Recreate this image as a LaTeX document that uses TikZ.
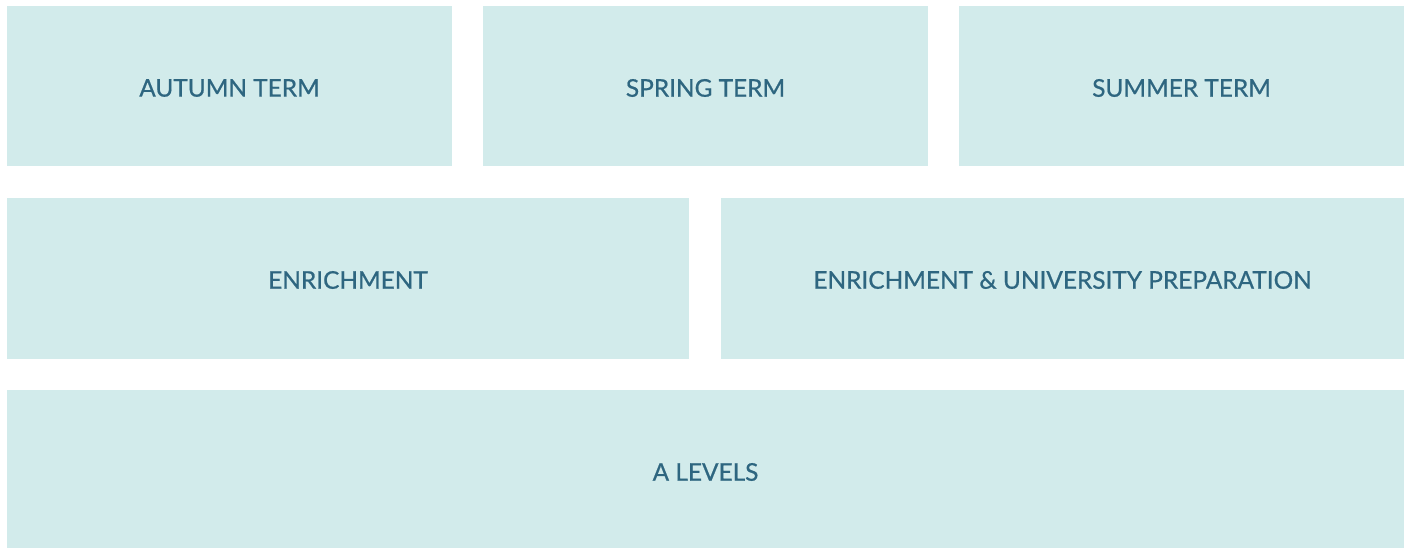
\documentclass[tikz,border=0pt]{standalone}
\usepackage{fontspec}
\setmainfont{Lato}
\newfontfamily\lblfont{Lato}[FakeBold=0.7]
\definecolor{boxfill}{HTML}{D2EBEB}
\definecolor{boxtext}{HTML}{2E6680}
\begin{document}
\begin{tikzpicture}[x=1pt,y=-1pt,
  blk/.style={fill=boxfill,draw=none,inner sep=0pt,outer sep=0pt},
  lbl/.style={text=boxtext,font=\lblfont\fontsize{24.4}{28}\selectfont,inner sep=0pt}]
\useasboundingbox (0,0) rectangle (1407,548);
\fill[white] (0,0) rectangle (1407,548);
\path[blk] (7,6) rectangle (452,166.5);
\path[blk] (483,6) rectangle (928,166.5);
\path[blk] (959,6) rectangle (1404,166.5);
\path[blk] (7,198) rectangle (689,358.5);
\path[blk] (721,198) rectangle (1404,358.5);
\path[blk] (7,390) rectangle (1404,548);
\node[lbl] (autumn) at (229.5,88) {AUTUMN TERM};
\node[lbl] (spring) at (705.5,88) {SPRING TERM};
\node[lbl] (summer) at (1181.5,88) {SUMMER TERM};
\node[lbl] (enr) at (348,280) {ENRICHMENT};
\node[lbl] (enruni) at (1062.5,280) {ENRICHMENT \& UNIVERSITY PREPARATION};
\node[lbl] (alev) at (705.5,472) {A LEVELS};
\end{tikzpicture}
\end{document}
